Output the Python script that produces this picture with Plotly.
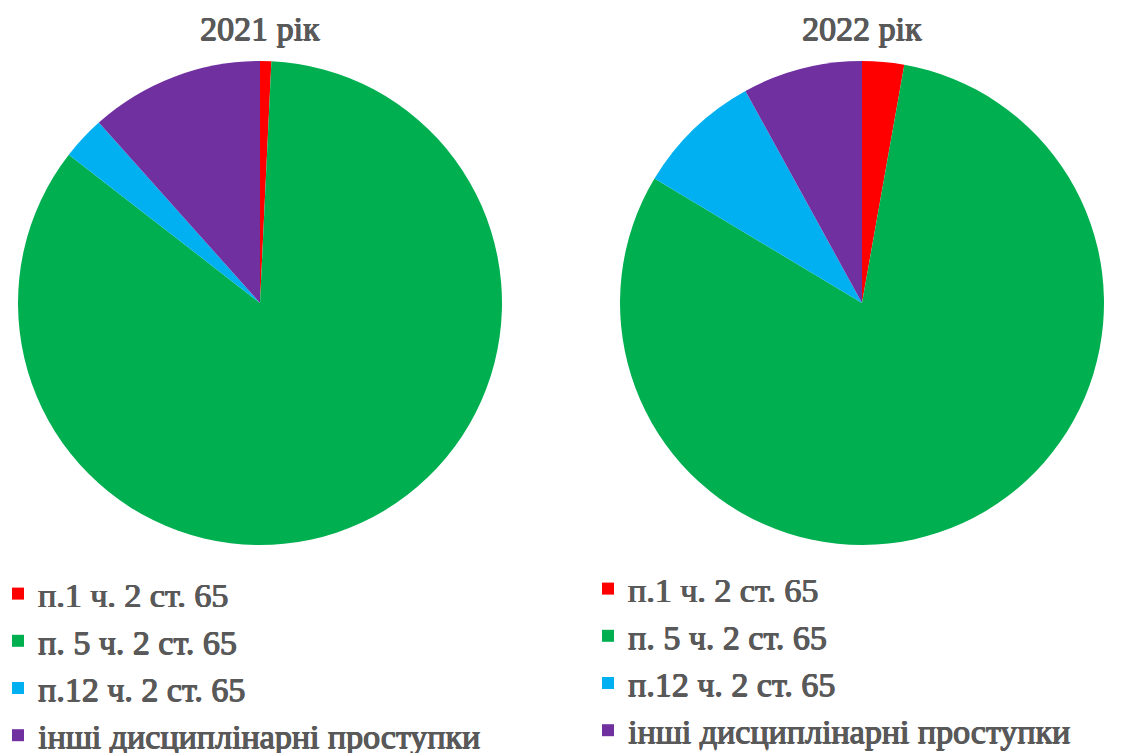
import plotly.graph_objects as go

categories = ["п.1 ч. 2 ст. 65", "п. 5 ч. 2 ст. 65", "п.12 ч. 2 ст. 65", "інші дисциплінарні проступки"]
values_2021 = [0.75, 84.75, 2.9, 11.6]
values_2022 = [2.8, 80.8, 8.4, 8.0]
colors = ["#FF0000", "#00B050", "#00B0F0", "#7030A0"]
titles = ["2021 рік", "2022 рік"]

W, H = 1139, 753
OFF = 8  # page body margin
FONT = "Liberation Serif"
GRAY = "#595959"
BOLD = "0.8px 0 0 #595959, -0.5px 0 0 #595959, 0 0.5px 0 #595959"

def px_x(x):
    return (x - OFF) / W

def px_y(y):
    return 1 - (y - OFF) / H

def dom(cx, cy, r):
    return dict(x=[px_x(cx - r), px_x(cx + r)], y=[px_y(cy + r), px_y(cy - r)])

labels_2021 = list(categories)
labels_2022 = [c + "\u200b" for c in categories]

fig = go.Figure()
fig.add_trace(go.Pie(labels=labels_2021, values=values_2021, marker=dict(colors=colors),
                     sort=False, direction="clockwise", rotation=0, textinfo="none",
                     domain=dom(260, 303, 242), legend="legend", hoverinfo="label+percent"))
fig.add_trace(go.Pie(labels=labels_2022, values=values_2022, marker=dict(colors=colors),
                     sort=False, direction="clockwise", rotation=0, textinfo="none",
                     domain=dom(862, 303, 242), legend="legend2", hoverinfo="label+percent"))

legfont = dict(family=FONT, size=34, color=GRAY, shadow=BOLD)
titlefont = dict(family=FONT, size=34, color=GRAY, shadow=BOLD)
fig.update_layout(
    width=W, height=H,
    margin=dict(l=0, r=0, t=0, b=0, autoexpand=False),
    paper_bgcolor="white", plot_bgcolor="white",
    legend=dict(x=px_x(-2), y=px_y(565), xanchor="left", yanchor="top",
                font=legfont, bgcolor="rgba(0,0,0,0)"),
    legend2=dict(x=px_x(588), y=px_y(560), xanchor="left", yanchor="top",
                 font=legfont, bgcolor="rgba(0,0,0,0)"),
    annotations=[
        dict(text=titles[0], x=px_x(260), y=px_y(29), xref="paper", yref="paper",
             xanchor="center", yanchor="middle", showarrow=False, font=titlefont),
        dict(text=titles[1], x=px_x(862), y=px_y(29), xref="paper", yref="paper",
             xanchor="center", yanchor="middle", showarrow=False, font=titlefont),
    ],
)

fig.write_html("out.html")
